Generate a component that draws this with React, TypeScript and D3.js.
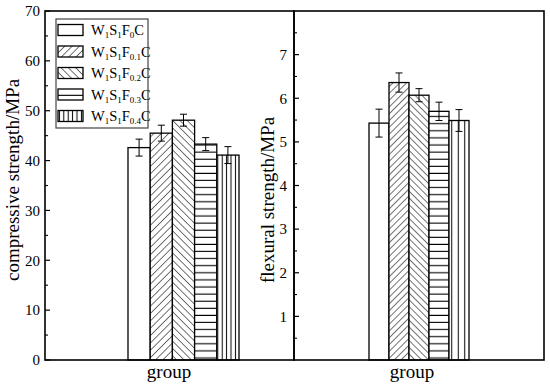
import React from "react";
import * as d3 from "d3";

// mix series, one bar each inside the single "group" category
const series = ["F0", "F0.1", "F0.2", "F0.3", "F0.4"];
const fiberSubs = ["0", "0.1", "0.2", "0.3", "0.4"];
const patterns = ["none", "diagUp", "diagDown", "horiz", "vert"];

// compressive strength, MPa
const compressive = [42.6, 45.5, 48.1, 43.3, 41.1];
const compressiveErr = [1.7, 1.6, 1.2, 1.3, 1.7];

// flexural strength, MPa
const flexural = [5.43, 6.36, 6.07, 5.7, 5.49];
const flexuralErr = [0.32, 0.22, 0.15, 0.21, 0.25];

const compressiveTicks = [0, 10, 20, 30, 40, 50, 60, 70];
const compressiveMinor = [5, 15, 25, 35, 45, 55, 65];
const flexuralTicks = [1, 2, 3, 4, 5, 6, 7];
const flexuralMinor = [0.5, 1.5, 2.5, 3.5, 4.5, 5.5, 6.5, 7.5];

const font = "'Liberation Serif', 'Times New Roman', serif";
const top = 11;
const bottom = 360;

type Panel = {
  id: string;
  x0: number;
  x1: number;
  barX: [number, number];
  domain: [number, number];
  values: number[];
  errs: number[];
  ticks: number[];
  minor: number[];
  label: string;
  labelX: number;
  labelY: number;
  groupX: number;
  tickLabelX: number;
  hatch: number;
  vert: number;
};

const panels: Panel[] = [
  {
    id: "l", x0: 45, x1: 294, barX: [128, 239], domain: [0, 70],
    values: compressive, errs: compressiveErr,
    ticks: compressiveTicks, minor: compressiveMinor,
    label: "compressive strength/MPa", labelX: 19, labelY: 180,
    groupX: 169, tickLabelX: 40, hatch: 5.2, vert: 4.4,
  },
  {
    id: "r", x0: 294, x1: 544, barX: [369, 469], domain: [0, 8],
    values: flexural, errs: flexuralErr,
    ticks: flexuralTicks, minor: flexuralMinor,
    label: "flexural strength/MPa", labelX: 274, labelY: 200,
    groupX: 412, tickLabelX: 287, hatch: 4.8, vert: 6.5,
  },
];

function PatternDefs({ p }: { p: Panel }) {
  const s = p.hatch;
  return (
    <>
      <pattern id={`diagUp-${p.id}`} patternUnits="userSpaceOnUse" width={s} height={s}
        patternTransform="rotate(45)">
        <line x1={0} y1={-1} x2={0} y2={s + 1} stroke="#000" strokeWidth={1.1} />
      </pattern>
      <pattern id={`diagDown-${p.id}`} patternUnits="userSpaceOnUse" width={s} height={s}
        patternTransform="rotate(-45)">
        <line x1={0} y1={-1} x2={0} y2={s + 1} stroke="#000" strokeWidth={1.1} />
      </pattern>
      <pattern id={`horiz-${p.id}`} patternUnits="userSpaceOnUse" width={8} height={7.1}>
        <line x1={-1} y1={3} x2={9} y2={3} stroke="#000" strokeWidth={1.1} />
      </pattern>
      <pattern id={`vert-${p.id}`} patternUnits="userSpaceOnUse" width={p.vert} height={8}>
        <line x1={p.vert / 2} y1={-1} x2={p.vert / 2} y2={9} stroke="#000" strokeWidth={1} />
      </pattern>
    </>
  );
}

function fillFor(i: number, id: string) {
  return patterns[i] === "none" ? "#fff" : `url(#${patterns[i]}-${id})`;
}

function PanelView({ p }: { p: Panel }) {
  const y = d3.scaleLinear().domain(p.domain).range([bottom, top]);
  const x = d3.scaleBand<string>().domain(series).range(p.barX).padding(0);
  const bw = x.bandwidth();
  return (
    <g>
      {series.map((s, i) => {
        const bx = x(s)!;
        const v = p.values[i];
        return (
          <g key={s}>
            {patterns[i] !== "none" && (
              <rect x={bx} y={y(v)} width={bw} height={y(0) - y(v)} fill="#fff" />
            )}
            <rect x={bx} y={y(v)} width={bw} height={y(0) - y(v)}
              fill={fillFor(i, p.id)} stroke="#000" strokeWidth={1.3} />
          </g>
        );
      })}
      {series.map((s, i) => {
        const cx = x(s)! + bw / 2;
        const hi = y(p.values[i] + p.errs[i]);
        const lo = y(p.values[i] - p.errs[i]);
        return (
          <g key={`e${s}`} stroke="#000" strokeWidth={1}>
            <line x1={cx} x2={cx} y1={hi} y2={lo} />
            <line x1={cx - 3.5} x2={cx + 3.5} y1={hi} y2={hi} />
            <line x1={cx - 3.5} x2={cx + 3.5} y1={lo} y2={lo} />
          </g>
        );
      })}
      {/* ticks inward from the left side of the panel */}
      {p.ticks.map((t) => (
        <g key={`t${t}`}>
          <line x1={p.x0} x2={p.x0 + 5} y1={y(t)} y2={y(t)} stroke="#000" strokeWidth={1.2} />
          <text x={p.tickLabelX} y={y(t)} dy="0.35em" textAnchor="end" fontSize={15}
            fontFamily={font}>{t}</text>
        </g>
      ))}
      {p.minor.map((t) => (
        <line key={`m${t}`} x1={p.x0} x2={p.x0 + 3} y1={y(t)} y2={y(t)} stroke="#000"
          strokeWidth={1.1} />
      ))}
      <rect x={p.x0} y={top} width={p.x1 - p.x0} height={bottom - top} fill="none"
        stroke="#000" strokeWidth={1.6} />
      <text transform={`translate(${p.labelX},${p.labelY}) rotate(-90)`} textAnchor="middle"
        fontSize={19} fontFamily={font}>{p.label}</text>
      <text x={p.groupX} y={378} textAnchor="middle" fontSize={19} fontFamily={font}>group</text>
    </g>
  );
}

function Legend() {
  const rowY = d3.scalePoint<string>().domain(series).range([30, 116]);
  return (
    <g>
      <rect x={56} y={19} width={92} height={109} fill="#fff" stroke="#444" strokeWidth={1.2} />
      {series.map((s, i) => {
        const cy = rowY(s)!;
        return (
          <g key={s}>
            <rect x={58} y={cy - 5.5} width={25} height={11} fill="#fff" />
            <rect x={58} y={cy - 5.5} width={25} height={11} fill={fillFor(i, "l")}
              stroke="#000" strokeWidth={1.3} />
            <text x={91} y={cy + 5} fontSize={14.5} fontFamily={font}>
              W<tspan fontSize={9} dy={3}>1</tspan>
              <tspan dy={-3}>S</tspan><tspan fontSize={9} dy={3}>1</tspan>
              <tspan dy={-3}>F</tspan><tspan fontSize={9} dy={3}>{fiberSubs[i]}</tspan>
              <tspan dy={-3}>C</tspan>
            </text>
          </g>
        );
      })}
    </g>
  );
}

export default function App() {
  return (
    <svg width={550} height={391} style={{ position: "absolute", left: 0, top: 0 }}>
      <defs>
        {panels.map((p) => <PatternDefs key={p.id} p={p} />)}
      </defs>
      <rect width={550} height={391} fill="#fff" />
      {panels.map((p) => <PanelView key={p.id} p={p} />)}
      <Legend />
    </svg>
  );
}
